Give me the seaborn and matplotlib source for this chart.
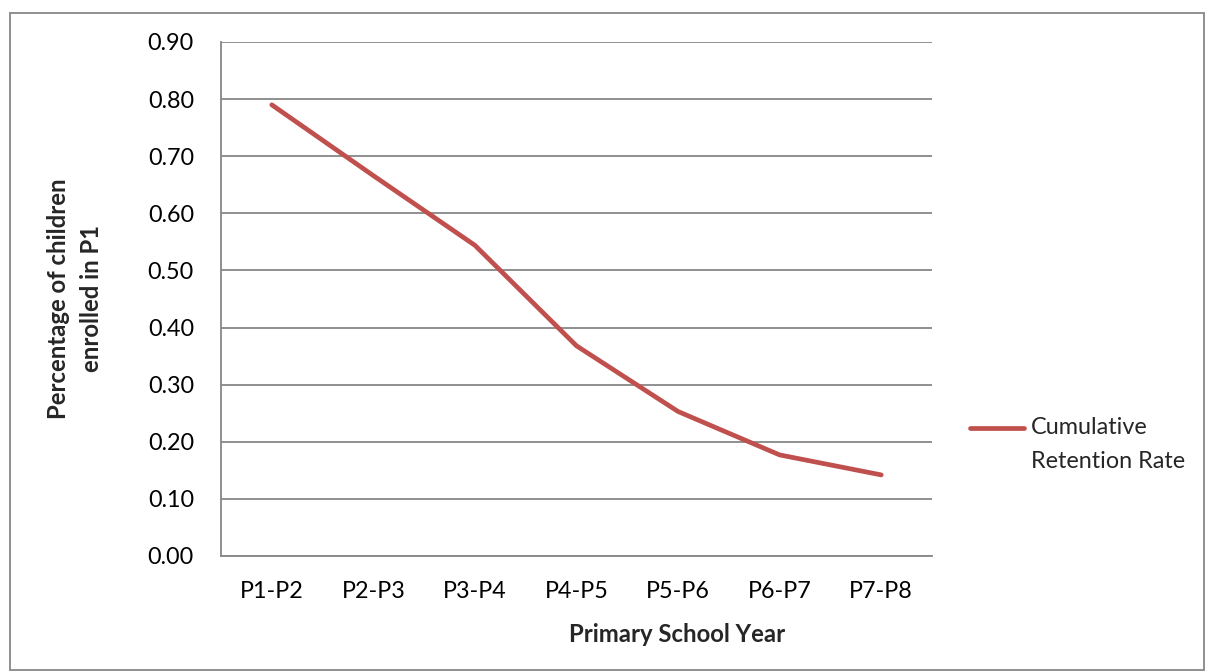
import matplotlib
matplotlib.use("Agg")
import matplotlib.pyplot as plt
import seaborn as sns
import pandas as pd
from matplotlib.patches import Rectangle
from matplotlib.lines import Line2D
from matplotlib.legend_handler import HandlerLine2D

categories = ["P1-P2", "P2-P3", "P3-P4", "P4-P5", "P5-P6", "P6-P7", "P7-P8"]
retention = [0.790, 0.666, 0.544, 0.368, 0.253, 0.177, 0.142]
yticks = [0.0, 0.1, 0.2, 0.3, 0.4, 0.5, 0.6, 0.7, 0.8, 0.9]

sns.set_theme(style="white")
plt.rcParams['font.family'] = ['Lato', 'DejaVu Sans']

W, H = 1206, 671
FS = 16.8
FSB = 17.2
fig = plt.figure(figsize=(W / 100, H / 100), dpi=100)
ax = fig.add_axes([221 / W, 1 - 556 / H, (932 - 221) / W, (556 - 42) / H])

df = pd.DataFrame({"year": categories, "rate": retention})
sns.lineplot(data=df, x="year", y="rate", sort=False, ax=ax, color="#C0504D",
             linewidth=3.4, solid_capstyle="round", label="Cumulative\nRetention Rate")

grid_c = "#878787"
ax.set_xlim(-0.5, len(categories) - 0.5)
ax.set_ylim(0, 0.9)
ax.set_yticks(yticks)
ax.set_yticklabels([f"{v:.2f}" for v in yticks])
ax.yaxis.grid(True, color=grid_c, linewidth=1.3)
ax.xaxis.grid(False)
ax.set_axisbelow(True)
for s in ["top", "right"]:
    ax.spines[s].set_visible(False)
for s in ["left", "bottom"]:
    ax.spines[s].set_color(grid_c)
    ax.spines[s].set_linewidth(1.3)
ax.tick_params(axis="both", length=0, labelsize=FS, colors="black")
ax.tick_params(axis="y", pad=19.5)
ax.tick_params(axis="x", pad=18)
ax.set_xlabel("")
ax.set_ylabel("")

fig.text(75 / W, 1 - 299 / H, "Percentage of children\nenrolled in P1", rotation=90,
         ha="center", va="center", fontsize=FSB, fontweight="bold", linespacing=1.5)
fig.text(677 / W, 1 - 642 / H, "Primary School Year", ha="center", va="baseline",
         fontsize=FSB, fontweight="bold")


class FirstLineHandler(HandlerLine2D):
    def create_artists(self, legend, orig_handle, xdescent, ydescent, width, height,
                       fontsize, trans):
        return super().create_artists(legend, orig_handle, xdescent,
                                      ydescent - 1.45 * fontsize, width, height,
                                      fontsize, trans)


leg = ax.legend(loc="upper left", bbox_to_anchor=(970 / W, 1 - 417 / H),
                bbox_transform=fig.transFigure, frameon=False, fontsize=FS,
                handlelength=2.3, handletextpad=0.3, borderaxespad=0, borderpad=0,
                handler_map={Line2D: FirstLineHandler()})
for t in leg.get_texts():
    t.set_linespacing(1.75)

fig.patches.append(Rectangle((10 / W, 1 / H), (1204 - 10) / W, (670 - 13) / H,
                             transform=fig.transFigure, fill=False,
                             edgecolor=grid_c, linewidth=1.3, figure=fig))

fig.savefig("out.png", dpi=100)
